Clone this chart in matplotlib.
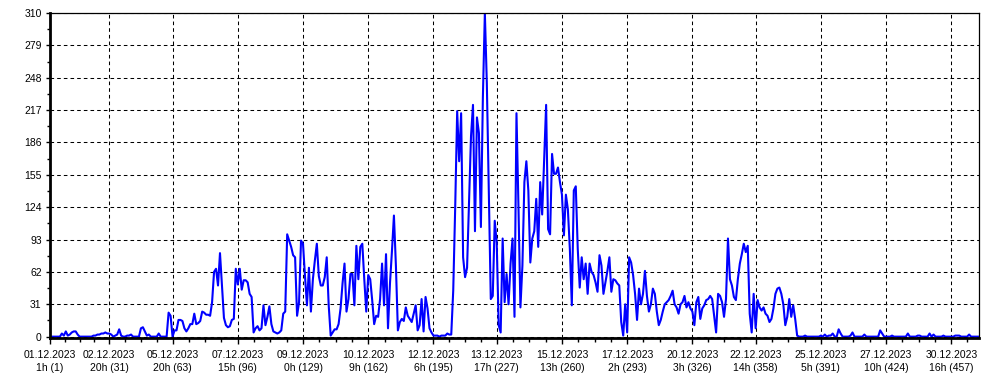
import numpy as np
import matplotlib
matplotlib.use("Agg")
import matplotlib.pyplot as plt

# hourly values (index 1..471)
part1 = [0, 0, 0, 0, 0, 0, 3, 1, 5, 1, 2, 4, 5, 5, 2, 0, 0, 0, 0, 0,
         0, 0, 1, 1, 2, 2, 3, 3, 4, 3, 3, 2, 0, 1, 2, 7, 1, 0, 0, 1,
         1, 2, 0, 0, 0, 0, 8, 9, 5, 1, 2, 0, 0, 0, 0, 3, 0, 0, 0, 0,
         23, 20, 0, 6, 6, 16, 16, 15, 8, 5, 8, 12, 12, 22, 12, 13, 15, 24, 23, 21,
         21, 20, 33, 62, 65, 49, 80, 49, 18, 11, 9, 10, 16, 17, 65, 50, 65, 45, 54, 54]
part2 = [52, 41, 38, 4, 8, 10, 6, 8, 30, 11, 19, 29, 12, 5, 4, 3, 4, 6, 22, 24,
         98, 92, 86, 78, 76, 20, 33, 92, 89, 58, 30, 66, 24, 55, 73, 89, 58, 49, 49, 57,
         76, 30, 1, 4, 7, 7, 12, 27, 51, 70, 24, 36, 60, 60, 30, 87, 55, 86, 89, 55,
         24, 59, 55, 35, 12, 20, 19, 36, 70, 30, 79, 8, 51, 82, 116, 68, 6, 14, 17, 15,
         28, 20, 17, 14, 22, 30, 6, 11, 36, 5, 38, 27, 8, 4, 1, 1, 1, 0, 1, 1]
part3 = [1, 3, 2, 2, 44, 124, 216, 168, 214, 76, 57, 66, 128, 192, 222, 101, 210, 195, 105, 229,
         310, 243, 138, 36, 39, 111, 90, 11, 4, 94, 33, 60, 31, 70, 94, 19, 214, 125, 28, 68,
         148, 168, 140, 71, 94, 101, 132, 86, 148, 117, 170, 222, 103, 98, 175, 156, 156, 162, 148, 136,
         97, 136, 122, 84, 30, 140, 144, 84, 47, 76, 55, 70, 41, 70, 62, 59, 52, 43, 78, 68,
         41, 52, 63, 76, 43, 55, 54, 51, 49, 14, 1, 31, 4, 76, 71, 59, 41, 16, 46, 31]
part4 = [41, 63, 39, 24, 31, 46, 41, 24, 11, 16, 24, 31, 33, 35, 39, 44, 31, 28, 22, 31,
         33, 39, 28, 33, 27, 24, 11, 33, 38, 17, 27, 30, 35, 36, 39, 36, 20, 4, 41, 39,
         33, 19, 36, 94, 55, 49, 38, 35, 55, 70, 79, 89, 81, 87, 22, 4, 41, 8, 35, 28,
         25, 28, 22, 20, 14, 17, 27, 41, 46, 47, 41, 31, 11, 19, 36, 19, 30, 17, 1, 0,
         0, 0, 1, 0, 0, 0, 0, 0, 0, 0, 1, 0, 2, 0, 1, 1, 3, 0, 0, 7]
part5 = [3, 0, 0, 0, 0, 1, 4, 0, 0, 0, 0, 0, 2, 0, 0, 0, 0, 0, 0, 0,
         6, 3, 0, 0, 0, 0, 1, 0, 0, 0, 0, 0, 0, 0, 3, 0, 0, 0, 0, 1,
         1, 0, 0, 0, 0, 3, 0, 2, 0, 0, 0, 0, 1, 0, 0, 0, 0, 0, 1, 1,
         1, 0, 0, 0, 0, 2, 0, 0, 0, 0, 0]

tick_idx = [1, 31, 63, 96, 129, 162, 195, 227, 260, 293, 326, 358, 391, 424, 457]
tick_dates = ["01.12.2023", "02.12.2023", "05.12.2023", "07.12.2023", "09.12.2023",
              "10.12.2023", "12.12.2023", "13.12.2023", "15.12.2023", "17.12.2023",
              "20.12.2023", "22.12.2023", "25.12.2023", "27.12.2023", "30.12.2023"]
tick_hours = ["1h", "20h", "20h", "15h", "0h", "9h", "6h", "17h", "13h", "2h",
              "3h", "14h", "5h", "10h", "16h"]
y_ticks = list(range(0, 311, 31))

values = np.array(part1 + part2 + part3 + part4 + part5, dtype=float)
x = np.arange(1, len(values) + 1)

plt.rcParams['font.family'] = ['Liberation Sans', 'DejaVu Sans']
plt.rcParams['lines.scale_dashes'] = False

fig = plt.figure(figsize=(9.97, 3.73), dpi=100)
ax = fig.add_axes([50 / 997, 35 / 373, 929 / 997, 325 / 373])

ax.plot(x, values, color='#0000ff', linewidth=1.5, zorder=3)

ax.set_xlim(1, 471)
ax.set_ylim(-1.3, 310)

labels = [f"{d}\n{h} ({i})" for d, h, i in zip(tick_dates, tick_hours, tick_idx)]
ax.set_xticks(tick_idx)
ax.set_xticklabels(labels, fontsize=7.5, linespacing=1.3)
minor_x = []
for a, b in zip(tick_idx[:-1], tick_idx[1:]):
    minor_x += [a + (b - a) * k / 4 for k in (1, 2, 3)]
minor_x.append(465)
ax.set_xticks(minor_x, minor=True)

ax.set_yticks(y_ticks)
ax.set_yticklabels([str(v) for v in y_ticks], fontsize=7.5)
ax.set_yticks([v + 15.5 for v in y_ticks[:-1]], minor=True)

ax.tick_params(axis='x', which='major', length=4, width=1, pad=5, colors='black')
ax.tick_params(axis='x', which='minor', length=3, width=1)
ax.tick_params(axis='y', which='major', length=3, width=1, pad=3)
ax.tick_params(axis='y', which='minor', length=2, width=1)

ax.grid(True, which='major', color='black', linewidth=0.75, linestyle=(0, (2.6, 2.2)))
ax.set_axisbelow(True)

for side in ('top', 'right'):
    ax.spines[side].set_linewidth(0.9)
for side in ('left', 'bottom'):
    ax.spines[side].set_linewidth(2.0)
for sp in ax.spines.values():
    sp.set_color('black')
    sp.set_zorder(4)

fig.savefig('out.png', dpi=100, facecolor='white')
